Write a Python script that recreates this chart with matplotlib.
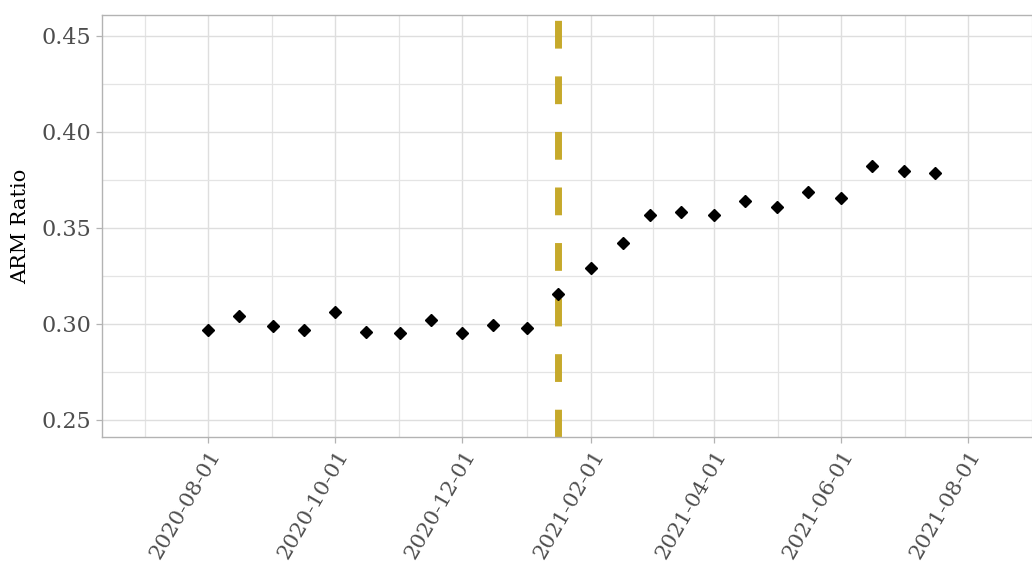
import numpy as np
import pandas as pd
import matplotlib
matplotlib.use("Agg")
import matplotlib.pyplot as plt
import matplotlib.dates as mdates

plt.rcParams["font.family"] = ["DejaVu Serif"]
plt.rcParams["lines.scale_dashes"] = False

# Semi-monthly observation dates and ratio values
dates = [
    "2020-08-01", "2020-08-16", "2020-09-01", "2020-09-16", "2020-10-01", "2020-10-16",
    "2020-11-01", "2020-11-16", "2020-12-01", "2020-12-16", "2021-01-01", "2021-01-16",
    "2021-02-01", "2021-02-16", "2021-03-01", "2021-03-16", "2021-04-01", "2021-04-16",
    "2021-05-01", "2021-05-16", "2021-06-01", "2021-06-16", "2021-07-01", "2021-07-16",
]
arm_ratio = [
    0.2969, 0.3042, 0.2990, 0.2969, 0.3063, 0.2958,
    0.2953, 0.3020, 0.2953, 0.2995, 0.2979, 0.3156,
    0.3292, 0.3422, 0.3568, 0.3583, 0.3568, 0.3641,
    0.3609, 0.3688, 0.3656, 0.3823, 0.3797, 0.3786,
]
event_date = "2021-01-16"
x_breaks = ["2020-08-01", "2020-10-01", "2020-12-01", "2021-02-01",
            "2021-04-01", "2021-06-01", "2021-08-01"]
y_breaks = [0.25, 0.30, 0.35, 0.40, 0.45]

x = pd.to_datetime(dates)
xb = pd.to_datetime(x_breaks)
x_left = pd.Timestamp("2020-06-11")
x_right = pd.Timestamp("2021-09-22")

W, H = 1032, 568
fig = plt.figure(figsize=(W / 100, H / 100), dpi=100)
px_per_day = (968 - 208) / 365.0
ax_w = (x_right - x_left).days * px_per_day
ax = fig.add_axes([102 / W, (H - 437) / H, ax_w / W, (437 - 15) / H])

# grid: majors at breaks, minors midway between them
ax.set_xticks(xb)
ax.set_xticklabels([d.strftime("%Y-%m-%d") for d in xb])
xb_num = mdates.date2num(pd.to_datetime(["2020-06-01"] + x_breaks + ["2021-10-01"]))
x_minor = (xb_num[:-1] + xb_num[1:]) / 2
ax.set_xticks(x_minor, minor=True)
ax.set_yticks(y_breaks)
ax.set_yticklabels([f"{v:.2f}" for v in y_breaks])
ax.set_yticks(np.arange(0.225, 0.48, 0.05), minor=True)

ax.set_xlim(x_left, x_right)
ax.set_ylim(0.2411, 0.4609)

ax.grid(which="major", color="#DEDEDE", linewidth=1.0, zorder=0)
ax.grid(which="minor", color="#E4E4E4", linewidth=0.9, zorder=0)
ax.set_axisbelow(True)

for s in ["left", "top", "bottom", "right"]:
    ax.spines[s].set_color("#B3B3B3")
    ax.spines[s].set_linewidth(1.0)

ax.tick_params(which="major", length=4, width=0.9, color="#B3B3B3",
               labelcolor="#4D4D4D", labelsize=16, pad=4)
ax.tick_params(axis="x", which="major", labelsize=15.3, pad=3)
ax.tick_params(which="minor", length=0)
for lab in ax.get_xticklabels():
    lab.set_rotation(60)
    lab.set_ha("right")
    lab.set_va("top")
    lab.set_rotation_mode("anchor")

ax.axvline(pd.Timestamp(event_date), color="#C6A92B", linewidth=5,
           dashes=(20, 20), zorder=2)
ax.plot(x, arm_ratio, linestyle="none", marker="D", markersize=6,
        color="black", zorder=3)

ax.set_ylabel("ARM Ratio", fontsize=15, color="black", labelpad=8)

fig.savefig("out.png", dpi=100)
